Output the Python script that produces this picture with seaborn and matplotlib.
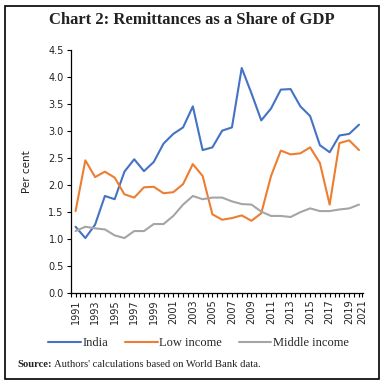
import matplotlib
matplotlib.use("Agg")
import matplotlib.pyplot as plt
import numpy as np
import pandas as pd
import seaborn as sns
from matplotlib.patches import Rectangle
from matplotlib.lines import Line2D

years = list(range(1991, 2021))
india = [1.22, 1.01, 1.26, 1.79, 1.73, 2.24, 2.47, 2.25, 2.42, 2.76,
         2.94, 3.06, 3.45, 2.64, 2.69, 3.00, 3.06, 4.16, 3.69, 3.19,
         3.41, 3.76, 3.77, 3.45, 3.27, 2.73, 2.60, 2.91, 2.94, 3.11]
low_income = [1.51, 2.45, 2.14, 2.24, 2.13, 1.82, 1.76, 1.95, 1.96, 1.84,
              1.86, 2.01, 2.38, 2.16, 1.45, 1.35, 1.38, 1.43, 1.33, 1.47,
              2.16, 2.63, 2.56, 2.58, 2.69, 2.40, 1.63, 2.77, 2.82, 2.64]
middle_income = [1.14, 1.22, 1.19, 1.17, 1.06, 1.01, 1.14, 1.14, 1.27, 1.27,
                 1.42, 1.63, 1.79, 1.73, 1.76, 1.76, 1.69, 1.64, 1.63, 1.50,
                 1.42, 1.42, 1.40, 1.49, 1.56, 1.51, 1.51, 1.54, 1.56, 1.63]
series_names = ["India", "Low income", "Middle income"]
colors = ["#4472C4", "#ED7D31", "#A5A5A5"]
y_ticks = [0.0, 0.5, 1.0, 1.5, 2.0, 2.5, 3.0, 3.5, 4.0, 4.5]
x_tick_labels = [str(y) for y in range(1991, 2022, 2)]

df = pd.DataFrame({
    "Year": years * 3,
    "Value": india + low_income + middle_income,
    "Series": [s for s in series_names for _ in years],
})

sns.set_theme(style="ticks")
plt.rcParams["font.family"] = ["DejaVu Sans"]

fig = plt.figure(figsize=(3.85, 3.85), dpi=100)
ax = fig.add_axes([0.1836, 0.240, 0.759, 0.631])
sns.lineplot(data=df, x="Year", y="Value", hue="Series", hue_order=series_names,
             palette=colors, linewidth=1.5, ax=ax, legend=False)

xmin, xmax = 1990.5, 2020.4
ax.set_xlim(xmin, xmax)
ax.set_ylim(0, 4.5)
ax.set_yticks(y_ticks)
ax.set_yticklabels([f"{v:.1f}" for v in y_ticks], fontsize=7, color="#222222")
xpos = list(range(1991, 2020, 2)) + [xmax - 0.05]
ax.set_xticks(xpos)
ax.set_xticklabels(x_tick_labels, rotation=90, fontsize=7, color="#222222")
ax.set_xticks(np.arange(xmin, xmax, 0.5), minor=True)
ax.tick_params(axis="x", which="both", length=3, width=0.8, color="black", pad=2)
ax.tick_params(axis="y", length=3, width=0.8, color="black", pad=2)
ax.set_xlabel("")
ax.set_ylabel("")
sns.despine(ax=ax)
for s in ["left", "bottom"]:
    ax.spines[s].set_color("black")
    ax.spines[s].set_linewidth(0.9)

fig.text(27 / 385, 0.555, "Per cent", rotation=90, ha="center", va="center",
         fontsize=7.5, color="#222222")

fig.text(0.499, 1 - 20 / 385, "Chart 2: Remittances as a Share of GDP",
         ha="center", va="center", fontsize=12, fontweight="bold",
         family=["Liberation Serif"], color="#222222")

handles = [Line2D([], [], color=c, lw=1.5) for c in colors]
fig.legend(handles, series_names, loc="center", bbox_to_anchor=(198.5 / 385, 1 - 343 / 385),
           ncol=3, frameon=False, handlelength=2.6, handletextpad=0.12,
           columnspacing=1.35, prop={"family": "Liberation Serif", "size": 9})

t1 = fig.text(17 / 385, 1 - 367 / 385, "Source:", fontsize=7.7, fontweight="bold",
              family=["Liberation Serif"], va="baseline", color="#222222")
fig.add_artist(plt.matplotlib.text.Annotation(
    " Authors' calculations based on World Bank data.", xy=(1, 0), xycoords=t1,
    va="bottom", ha="left", fontsize=7.7, family=["Liberation Serif"], color="#222222"))

fig.add_artist(Rectangle((5 / 385, 6 / 385), 374 / 385, 373 / 385,
                         transform=fig.transFigure, fill=False, lw=1.2, ec="black"))

fig.savefig("out.png", dpi=100)
